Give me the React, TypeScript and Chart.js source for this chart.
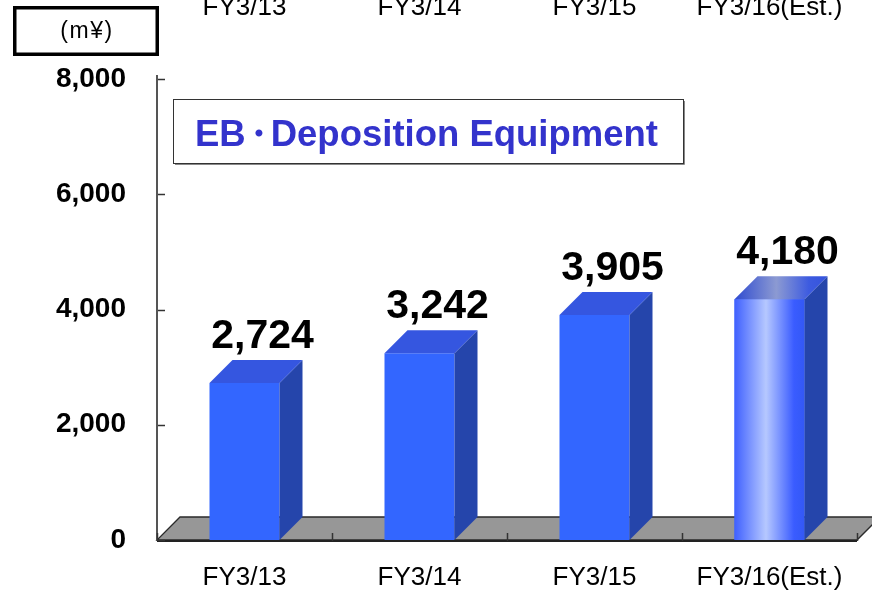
import React, { useEffect, useRef } from 'react';
import { Chart, registerables } from 'chart.js';

Chart.register(...registerables);

const categories = ['FY3/13', 'FY3/14', 'FY3/15', 'FY3/16(Est.)'];
const values = [2724, 3242, 3905, 4180];
const yMin = 0;
const yMax = 8000;
const yStep = 2000;
const estimateIndex = 3;
const unitLabel = '(m¥)';
const titleParts = ['EB', '・', 'Deposition Equipment'];

const FONT = '"Liberation Sans", Arial, Helvetica, sans-serif';
const DEPTH = 23;

const fmt = (v: number) => v.toLocaleString('en-US');

const threeDPlugin = {
  id: 'threeD',
  beforeDatasetsDraw(chart: any) {
    const { ctx, scales } = chart;
    const x = scales.x;
    const y = scales.y;
    const base = y.getPixelForValue(0);
    const left = x.left;
    const right = x.right;
    ctx.save();
    ctx.beginPath();
    ctx.moveTo(left, base);
    ctx.lineTo(right, base);
    ctx.lineTo(right + DEPTH, base - DEPTH);
    ctx.lineTo(left + DEPTH, base - DEPTH);
    ctx.closePath();
    ctx.fillStyle = '#979797';
    ctx.fill();
    ctx.strokeStyle = '#2a2a2a';
    ctx.lineWidth = 1.3;
    ctx.stroke();
    ctx.restore();
  },
  afterDatasetsDraw(chart: any) {
    const { ctx, scales } = chart;
    const x = scales.x;
    const y = scales.y;
    const meta = chart.getDatasetMeta(0);
    ctx.save();
    meta.data.forEach((bar: any, i: number) => {
      const p = bar.getProps(['x', 'y', 'base', 'width'], true);
      const x0 = p.x - p.width / 2;
      const x1 = p.x + p.width / 2;
      const top = p.y;
      const base = p.base;
      const est = i === estimateIndex;

      if (est) {
        const g = ctx.createLinearGradient(x0, 0, x1, 0);
        g.addColorStop(0, '#3f60ff');
        g.addColorStop(0.45, '#b6c8ff');
        g.addColorStop(0.85, '#3a5cff');
        g.addColorStop(1, '#3358f5');
        ctx.fillStyle = g;
        ctx.fillRect(x0, top, x1 - x0, base - top);
      }

      // side face
      ctx.beginPath();
      ctx.moveTo(x1, top);
      ctx.lineTo(x1 + DEPTH, top - DEPTH);
      ctx.lineTo(x1 + DEPTH, base - DEPTH);
      ctx.lineTo(x1, base);
      ctx.closePath();
      ctx.fillStyle = '#2545ab';
      ctx.fill();

      // top face
      ctx.beginPath();
      ctx.moveTo(x0, top);
      ctx.lineTo(x1, top);
      ctx.lineTo(x1 + DEPTH, top - DEPTH);
      ctx.lineTo(x0 + DEPTH, top - DEPTH);
      ctx.closePath();
      if (est) {
        const g2 = ctx.createLinearGradient(x0, 0, x1 + DEPTH, 0);
        g2.addColorStop(0, '#2f4bd0');
        g2.addColorStop(0.45, '#8c9ad2');
        g2.addColorStop(0.8, '#3d5be0');
        g2.addColorStop(1, '#3453dc');
        ctx.fillStyle = g2;
      } else {
        ctx.fillStyle = '#3556e0';
      }
      ctx.fill();

      // value label
      ctx.fillStyle = '#000';
      ctx.font = `bold 41px ${FONT}`;
      ctx.textAlign = 'center';
      ctx.textBaseline = 'alphabetic';
      ctx.fillText(fmt(values[i]), p.x + 18, top - 35);
    });

    // axes
    const base0 = y.getPixelForValue(0);
    ctx.strokeStyle = '#222';
    ctx.lineWidth = 2;
    ctx.beginPath();
    ctx.moveTo(x.left, base0 + 1);
    ctx.lineTo(x.right, base0 + 1);
    ctx.stroke();

    ctx.strokeStyle = '#555';
    ctx.lineWidth = 2;
    ctx.beginPath();
    ctx.moveTo(x.left, y.getPixelForValue(yMax) - 4);
    ctx.lineTo(x.left, base0 + 1);
    ctx.stroke();

    ctx.strokeStyle = '#333';
    ctx.lineWidth = 1.5;
    for (let v = yMin; v <= yMax; v += yStep) {
      const py = Math.round(y.getPixelForValue(v)) + 0.5;
      ctx.beginPath();
      ctx.moveTo(x.left + 1, py);
      ctx.lineTo(x.left + 8, py);
      ctx.stroke();
    }
    const n = categories.length;
    const cw = (x.right - x.left) / n;
    for (let i = 0; i <= n; i++) {
      const px = Math.round(x.left + cw * i) + 0.5;
      ctx.beginPath();
      ctx.moveTo(px, base0 + 1);
      ctx.lineTo(px, base0 - 7);
      ctx.stroke();
    }
    ctx.restore();
  },
  afterDraw(chart: any) {
    const { ctx, scales } = chart;
    const x = scales.x;
    ctx.save();
    // top (cut-off) category labels
    ctx.fillStyle = '#000';
    ctx.font = `26px ${FONT}`;
    ctx.textAlign = 'center';
    ctx.textBaseline = 'alphabetic';
    categories.forEach((c, i) => {
      ctx.fillText(c, x.getPixelForValue(i), 15);
    });

    // unit box
    ctx.strokeStyle = '#000';
    ctx.lineWidth = 3.5;
    ctx.strokeRect(14.75, 7.75, 142.5, 46.5);
    ctx.font = `23px ${FONT}`;
    try {
      (ctx as any).letterSpacing = '1.5px';
    } catch (e) {}
    ctx.textAlign = 'center';
    ctx.textBaseline = 'middle';
    ctx.fillText(unitLabel, 87, 32);
    try {
      (ctx as any).letterSpacing = '0px';
    } catch (e) {}

    // title box
    ctx.fillStyle = '#fff';
    ctx.fillRect(173, 99, 510, 64);
    ctx.strokeStyle = '#888';
    ctx.lineWidth = 1;
    ctx.beginPath();
    ctx.moveTo(684.5, 101);
    ctx.lineTo(684.5, 164.5);
    ctx.lineTo(175, 164.5);
    ctx.stroke();
    ctx.strokeStyle = '#333';
    ctx.strokeRect(173.5, 99.5, 510, 64);
    ctx.fillStyle = '#3333cc';
    ctx.font = `bold 36.5px ${FONT}`;
    ctx.textAlign = 'left';
    ctx.textBaseline = 'alphabetic';
    let tx = 195;
    ctx.fillText(titleParts[0], tx, 146);
    tx += ctx.measureText(titleParts[0]).width;
    ctx.textAlign = 'center';
    ctx.fillText(titleParts[1], tx + 13, 146);
    ctx.textAlign = 'left';
    ctx.fillText(titleParts[2], tx + 25, 146);
    ctx.restore();
  },
};

export default function App() {
  const ref = useRef<HTMLCanvasElement | null>(null);

  useEffect(() => {
    if (!ref.current) return;
    const chart = new Chart(ref.current, {
      type: 'bar',
      data: {
        labels: categories,
        datasets: [
          {
            data: values,
            backgroundColor: '#3366ff',
            borderWidth: 0,
            categoryPercentage: 1,
            barPercentage: 0.4,
          },
        ],
      },
      options: {
        responsive: false,
        animation: false,
        devicePixelRatio: 1,
        events: [],
        layout: { padding: { top: 79, right: 15, left: 0, bottom: 0 } },
        plugins: {
          legend: { display: false },
          tooltip: { enabled: false },
          title: { display: false },
        },
        scales: {
          x: {
            grid: { display: false, drawTicks: false },
            border: { display: false },
            ticks: {
              color: '#000',
              font: { family: FONT, size: 26 },
              padding: 22,
              maxRotation: 0,
              autoSkip: false,
            },
            afterFit: (s: any) => {
              s.height = 59;
            },
          },
          y: {
            min: yMin,
            max: yMax,
            grid: { display: false, drawTicks: false },
            border: { display: false },
            ticks: {
              stepSize: yStep,
              color: '#000',
              font: { family: FONT, size: 28, weight: 'bold' },
              padding: 31,
              callback: (v: any) => fmt(Number(v)),
            },
            afterFit: (s: any) => {
              s.width = 157;
            },
          },
        },
      },
      plugins: [threeDPlugin],
    } as any);
    return () => chart.destroy();
  }, []);

  return (
    <div style={{ position: 'fixed', left: 0, top: 0, width: 872, height: 599, background: '#fff' }}>
      <canvas ref={ref} width={872} height={599} style={{ display: 'block' }} />
    </div>
  );
}
